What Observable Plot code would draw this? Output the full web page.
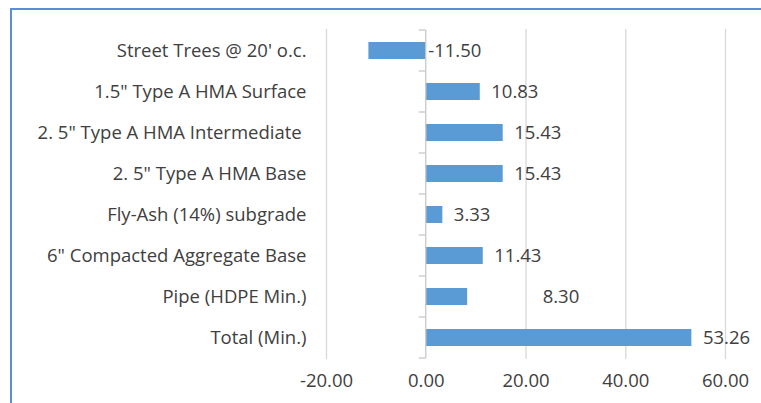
<!DOCTYPE html>
<html>
<head>
<meta charset="utf-8">
<script src="https://cdn.jsdelivr.net/npm/d3@7"></script>
<script src="https://cdn.jsdelivr.net/npm/@observablehq/plot@0.6"></script>
<style>
  html, body { margin: 0; padding: 0; background: #fff; }
  #wrap { position: relative; width: 761px; height: 403px; overflow: hidden; }
  #wrap svg text { white-space: pre; }
  #border { position: absolute; left: 10px; top: 8px; width: 800px; height: 450px;
            border-top: 2px solid #5b8fd5; border-left: 2px solid #5b8fd5; pointer-events: none; }
</style>
</head>
<body>
<div id="wrap"><div id="border"></div></div>
<script>
// Cost items (top to bottom) and their values
const items = [
  "Street Trees @ 20' o.c.",
  "1.5\" Type A HMA Surface",
  "2. 5\" Type A HMA Intermediate ",
  "2. 5\" Type A HMA Base",
  "Fly-Ash (14%) subgrade",
  "6\" Compacted Aggregate Base",
  "Pipe (HDPE Min.)",
  "Total (Min.)"
];
const values = [-11.50, 10.83, 15.43, 15.43, 3.33, 11.43, 8.30, 53.26];
const xTicks = [-20, 0, 20, 40, 60];

const rows = items.map((item, i) => ({item, value: values[i]}));

// Data labels sit just past the bar end; one label was nudged further right
const labelShift = {"Pipe (HDPE Min.)": 75};

const fmt = v => v.toFixed(2);
const textColor = "#404040";
const fontSize = 18.5;

// Category-axis tick marks at band boundaries, drawn along x = 0
function zeroAxisTicks(index, scales) {
  const {x, y} = scales;
  const g = d3.create("svg:g");
  const x0 = x(0);
  const bw = typeof y.bandwidth === "function" ? y.bandwidth() : y.bandwidth;
  const step = y(items[1]) - y(items[0]);
  const gap = (step - bw) / 2;
  const bounds = items.map(c => y(c) - gap);
  bounds.push(y(items[items.length - 1]) + bw + gap);
  for (const b of bounds) {
    g.append("line")
      .attr("x1", x0 - 7).attr("x2", x0)
      .attr("y1", b).attr("y2", b)
      .attr("stroke", "#c8c8c8").attr("stroke-width", 1.3);
  }
  g.append("line")
    .attr("x1", x0).attr("x2", x0)
    .attr("y1", bounds[0]).attr("y2", bounds[bounds.length - 1])
    .attr("stroke", "#c8c8c8").attr("stroke-width", 1.3);
  return g.node();
}

const chart = Plot.plot({
  width: 761,
  height: 403,
  marginLeft: 326,
  marginRight: 36,
  marginTop: 29,
  marginBottom: 44,
  style: {fontFamily: "'Open Sans', Lato, sans-serif", fontSize: fontSize + "px", color: textColor, background: "transparent"},
  x: {domain: [-20, 60], ticks: xTicks, label: null},
  y: {domain: items, paddingInner: 0.585, paddingOuter: 0.2925, label: null},
  marks: [
    Plot.gridX(xTicks.filter(t => t !== 0), {stroke: "#d9d9d9", strokeOpacity: 1, strokeWidth: 1.3}),
    Plot.barX(rows, {x: "value", y: "item", fill: "#5b9bd5"}),
    zeroAxisTicks,
    Plot.text(rows, {
      x: d => Math.max(0, d.value),
      y: "item",
      text: d => fmt(d.value),
      textAnchor: "start",
      fill: textColor,
      fontSize,
      render: (index, scales, values, dimensions, context, next) => {
        const node = next(index, scales, values, dimensions, context);
        d3.select(node).selectAll("text").each(function(_, k) {
          const r = rows[index[k]];
          const shift = r.value < 0 ? 2 : (labelShift[r.item] ?? 11);
          d3.select(this).attr("dx", shift);
        });
        return node;
      }
    }),
    Plot.axisX({ticks: xTicks, tickSize: 0, tickPadding: 14, tickFormat: fmt, fontSize, fill: textColor, label: null}),
    Plot.axisY({tickSize: 0, tickPadding: 20, fontSize, fill: textColor, label: null})
  ]
});

document.getElementById("wrap").prepend(chart);
</script>
</body>
</html>
